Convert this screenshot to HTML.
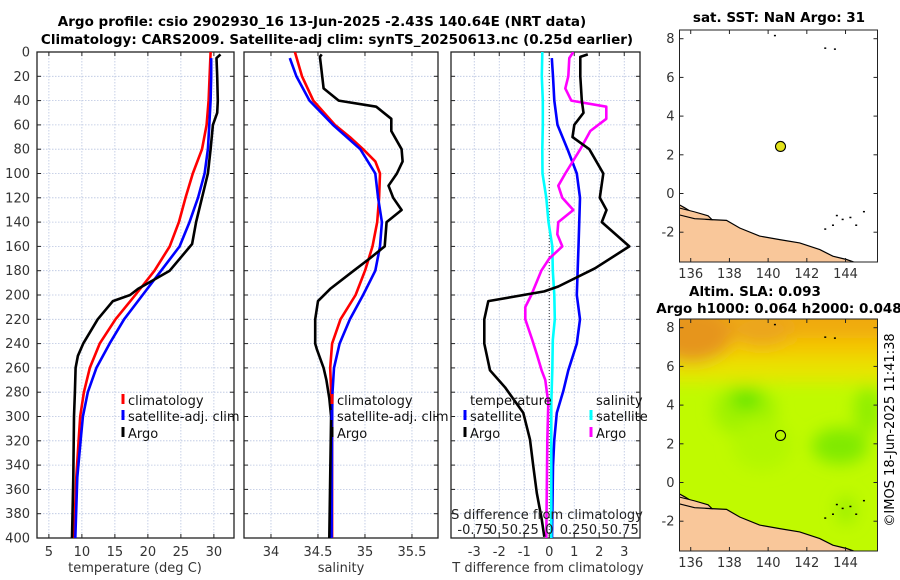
<!DOCTYPE html>
<html><head><meta charset="utf-8">
<style>
html,body{margin:0;padding:0;background:#fff;}
svg{display:block;font-family:"DejaVu Sans","Liberation Sans",sans-serif;}
</style></head>
<body>
<svg id="fig" width="900" height="580" viewBox="0 0 900 580" xmlns="http://www.w3.org/2000/svg">
<defs>
<filter id="blur8" x="-50%" y="-50%" width="200%" height="200%"><feGaussianBlur stdDeviation="8"/></filter>
<clipPath id="clipMap1"><rect x="680" y="30" width="198" height="232"/></clipPath>
<clipPath id="clipMap2"><rect x="679" y="319" width="198" height="232"/></clipPath>
<clipPath id="clipP1"><rect x="37" y="52" width="197" height="486"/></clipPath>
<clipPath id="clipP2"><rect x="244" y="52" width="194" height="486"/></clipPath>
<clipPath id="clipP3"><rect x="451" y="52" width="189" height="486"/></clipPath>
</defs>
<text x="322" y="26" text-anchor="middle" font-size="13.5" font-weight="bold">Argo profile: csio 2902930_16 13-Jun-2025 -2.43S 140.64E (NRT data)</text>
<text x="337" y="44" text-anchor="middle" font-size="13.5" font-weight="bold">Climatology: CARS2009. Satellite-adj clim: synTS_20250613.nc (0.25d earlier)</text>
<text x="779" y="22" text-anchor="middle" font-size="13.5" font-weight="bold">sat. SST: NaN Argo: 31</text>
<text x="755" y="296" text-anchor="middle" font-size="13.5" font-weight="bold">Altim. SLA: 0.093</text>
<text x="779" y="313" text-anchor="middle" font-size="13.5" font-weight="bold">Argo h1000: 0.064 h2000: 0.048</text>
<text transform="translate(894,430) rotate(-90)" text-anchor="middle" font-size="13">©IMOS 18-Jun-2025 11:41:38</text>
<g id="layer"></g>
</svg>
<script>
// ---- data ----
var depthTicks = [0,20,40,60,80,100,120,140,160,180,200,220,240,260,280,300,320,340,360,380,400];
var tempTicks = [5,10,15,20,25,30];
var salTicks = [34,34.5,35,35.5];
var salTickLabels = ["34","34.5","35","35.5"];
var tdiffTicks = [-3,-2,-1,0,1,2,3];
var sdiffTicks = [-0.75,-0.5,-0.25,0,0.25,0.5,0.75];
var sdiffTickLabels = ["-0.75","0.5","0.25","0","0.25","0.5","0.75"];

var tempClimDepth = [0,20,40,60,80,100,120,140,160,180,200,220,240,260,280,300,320,350,400];
var tempClim = [29.5,29.35,29.2,28.9,28.2,26.8,25.7,24.7,23.3,21.0,18.1,15.1,12.7,11.2,10.3,9.75,9.5,9.15,8.8];
var tempSatDepth = [5,20,40,60,80,100,120,140,160,180,200,220,240,260,280,300,320,350,400];
var tempSat = [29.6,29.6,29.5,29.3,29.1,28.6,27.6,26.3,24.8,22.0,19.2,16.4,14.2,12.2,10.9,10.15,9.8,9.3,9.0];
var tempArgoDepth = [2,5,20,40,50,60,80,100,120,140,158,180,195,200,205,220,240,250,260,280,300,350,400];
var tempArgo = [31.0,30.4,30.5,30.6,30.5,29.85,29.5,29.1,28.2,27.3,26.7,23.3,18.5,17.3,14.7,12.4,10.2,9.4,9.05,8.95,8.8,8.7,8.5];

var salClimDepth = [0,20,40,60,70,80,90,100,120,140,160,180,200,220,240,260,300,400];
var salClim = [34.255,34.33,34.45,34.68,34.84,34.98,35.11,35.16,35.15,35.13,35.08,35.0,34.9,34.74,34.65,34.63,34.65,34.65];
var salSatDepth = [5,20,40,60,80,100,120,140,160,180,200,220,240,260,280,300,400];
var salSat = [34.2,34.27,34.41,34.66,34.95,35.11,35.14,35.18,35.16,35.11,34.98,34.84,34.73,34.67,34.655,34.65,34.645];
var salArgoDepth = [2,4,10,30,40,45,55,65,80,90,100,110,120,130,140,160,170,180,195,205,220,240,245,260,270,285,300,400];
var salArgo = [34.54,34.52,34.53,34.56,34.72,35.12,35.28,35.28,35.39,35.40,35.34,35.25,35.30,35.39,35.23,35.21,35.05,34.88,34.63,34.50,34.47,34.47,34.49,34.56,34.59,34.62,34.64,34.62];

var tdiffSatDepth = [5,20,40,60,80,100,120,160,200,220,240,262,279,297,319,341,400];
var tdiffSat = [0.1,0.15,0.2,0.33,0.73,1.1,1.23,1.17,1.1,1.23,1.1,0.76,0.56,0.3,0.2,0.15,0.11];
var tdiffArgoDepth = [2,4,20,40,50,60,70,80,100,120,130,140,160,178,193,197,205,220,240,262,276,297,319,341,363,385,399];
var tdiffArgo = [1.54,1.24,1.24,1.3,1.37,1.0,0.93,1.6,2.16,2.02,2.29,2.1,3.2,1.83,0.36,-0.2,-2.44,-2.6,-2.6,-2.37,-1.77,-1.04,-0.77,-0.64,-0.5,-0.3,-0.2];
var sdiffSatDepth = [0,20,40,60,80,100,120,140,160,180,200,220,237,262,289,400];
var sdiffSat = [-0.07,-0.075,-0.065,-0.065,-0.07,-0.068,-0.03,-0.007,0.03,0.035,0.05,0.055,0.035,0.03,0.02,0.02];
var sdiffArgoDepth = [0,5,20,30,40,45,55,65,80,100,110,120,130,140,150,160,170,180,200,210,220,237,250,262,270,289,320,400];
var sdiffArgo = [0.24,0.2,0.19,0.16,0.22,0.57,0.57,0.41,0.31,0.16,0.09,0.13,0.24,0.09,0.08,0.13,0.0,-0.08,-0.18,-0.24,-0.24,-0.17,-0.12,-0.076,-0.04,-0.01,-0.02,-0.03];

var lonTicks = [136,138,140,142,144];
var latTicks = [-2,0,2,4,6,8];
var argoLon = 140.64;
var argoLat = 2.43;
var coastLon = [135.38,135.69,136.12,136.55,136.8,137.85,138.53,139.56,140.6,141.63,142.67,143.35,144.05,144.4];
var coastLat = [-0.57,-0.74,-1.0,-1.22,-1.34,-1.39,-1.78,-2.2,-2.38,-2.55,-2.9,-3.24,-3.41,-3.53];
var islandLon = [135.4,136.2,136.9,137.1,136.2,135.4];
var islandLat = [-0.75,-0.95,-1.15,-1.35,-1.3,-1.1];
var speckLon = [140.3,142.9,143.4,143.5,143.8,144.2,144.5,144.9,142.9,143.3];
var speckLat = [8.2,7.55,7.5,-1.1,-1.3,-1.2,-1.6,-0.9,-1.8,-1.6];

// ---- scales ----
var NS = "http://www.w3.org/2000/svg";
var layer = document.getElementById('layer');
function el(tag, attrs, parent) {
  var e = document.createElementNS(NS, tag);
  for (var k in attrs) e.setAttribute(k, attrs[k]);
  (parent || layer).appendChild(e);
  return e;
}
var Y0 = 52, Y1 = 538;
function yDepth(d) { return Y0 + d / 400 * (Y1 - Y0); }
var panels = [
  {x0:37, x1:234, v0:3.2, v1:33.05},
  {x0:244, x1:438, v0:33.713, v1:35.777},
  {x0:451, x1:640, v0:-3.93, v1:3.63}
];
function xP(p, v) { var P = panels[p]; return P.x0 + (v - P.v0) / (P.v1 - P.v0) * (P.x1 - P.x0); }
function xS(v) { return xP(2, v * 4); }

function drawPanelFrame(p) {
  var P = panels[p];
  var g = el('g', {});
  
  
  depthTicks.forEach(function (d) {
    var y = yDepth(d);
    var gl = el('line', {x1:P.x0, x2:P.x1, y1:y, y2:y, stroke:'#b8c4e0', 'stroke-width':0.8, 'stroke-dasharray':'1.5,1.5'}, g);
    
    
    el('line', {x1:P.x0, x2:P.x0 + 4, y1:y, y2:y, stroke:'#222', 'stroke-width':1}, g);
    el('line', {x1:P.x1 - 4, x2:P.x1, y1:y, y2:y, stroke:'#222', 'stroke-width':1}, g);
  });
  var ticks = p === 0 ? tempTicks : p === 1 ? salTicks : tdiffTicks;
  ticks.forEach(function (v, i) {
    var x = xP(p, v);
    var gl = el('line', {x1:x, x2:x, y1:Y0, y2:Y1, stroke:'#b8c4e0', 'stroke-width':0.8, 'stroke-dasharray':'1.5,1.5'}, g);
    
    
    el('line', {x1:x, x2:x, y1:Y1, y2:Y1 - 4, stroke:'#222'}, g);
    el('line', {x1:x, x2:x, y1:Y0, y2:Y0 + 4, stroke:'#222'}, g);
    var t = el('text', {x:x, y:556, 'text-anchor':'middle', 'font-size':13, fill:'#333'}, g);
    t.textContent = p === 1 ? salTickLabels[i] : String(v);
    
    
  });
  var fr = el('rect', {x:P.x0, y:Y0, width:P.x1 - P.x0, height:Y1 - Y0, fill:'none', stroke:'#222', 'stroke-width':1.3}, g);
  
  
}
for (var p = 0; p < 3; p++) drawPanelFrame(p);

depthTicks.forEach(function (d) {
  var t = el('text', {x:30, y:yDepth(d) + 4.5, 'text-anchor':'end', 'font-size':13, fill:'#333'});
  t.textContent = String(d);
  
  
});
var zl = el('line', {x1:xP(2,0), x2:xP(2,0), y1:Y0, y2:Y1, stroke:'#333', 'stroke-width':1, 'stroke-dasharray':'1,2'});



function line(p, depths, vals, color, name, sFlag) {
  var pts = depths.map(function (d, i) {
    var x = sFlag ? xS(vals[i]) : xP(p, vals[i]);
    return x.toFixed(1) + ',' + yDepth(d).toFixed(1);
  }).join(' ');
  var pl = el('polyline', {points:pts, fill:'none', stroke:color, 'stroke-width':2.6, 'stroke-linejoin':'round', 'clip-path':'url(#clipP' + (p + 1) + ')'});
  
  
}
line(0, tempClimDepth, tempClim, '#ff0000', 'temp-climatology-line');
line(0, tempSatDepth, tempSat, '#0000ff', 'temp-satellite-line');
line(0, tempArgoDepth, tempArgo, '#000000', 'temp-argo-line');
line(1, salClimDepth, salClim, '#ff0000', 'salinity-climatology-line');
line(1, salSatDepth, salSat, '#0000ff', 'salinity-satellite-line');
line(1, salArgoDepth, salArgo, '#000000', 'salinity-argo-line');
line(2, tdiffSatDepth, tdiffSat, '#0000ff', 'tdiff-satellite-line');
line(2, sdiffSatDepth, sdiffSat, '#00ffff', 'sdiff-satellite-line', true);
line(2, sdiffArgoDepth, sdiffArgo, '#ff00ff', 'sdiff-argo-line', true);
line(2, tdiffArgoDepth, tdiffArgo, '#000000', 'tdiff-argo-line');

[['temperature (deg C)', 135, 'temperature-axis-title'], ['salinity', 341, 'salinity-axis-title'], ['T difference from climatology', 548, 'tdiff-axis-title']].forEach(function (a) {
  var t = el('text', {x:a[1], y:572, 'text-anchor':'middle', 'font-size':13, fill:'#333'});
  t.textContent = a[0];
  
  
});
var st = el('text', {x:547, y:519, 'text-anchor':'middle', 'font-size':13, fill:'#222'});
st.textContent = 'S difference from climatology';


sdiffTicks.forEach(function (v, i) {
  var t = el('text', {x:xS(v), y:534, 'text-anchor':'middle', 'font-size':13, fill:'#222'});
  t.textContent = sdiffTickLabels[i];
  
  
});

function legendEntry(mx, y, color, label, name) {
  var g = el('g', {});
  
  
  el('rect', {x:mx - 1.5, y:y - 11, width:3, height:10, fill:color}, g);
  var t = el('text', {x:mx + 5, y:y, 'font-size':13, fill:'#111'}, g);
  t.textContent = label;
}
legendEntry(123, 405, '#ff0000', 'climatology', 'legend-temp-climatology');
legendEntry(123, 421, '#0000ff', 'satellite-adj. clim', 'legend-temp-satellite');
legendEntry(123, 438, '#000000', 'Argo', 'legend-temp-argo');
legendEntry(332, 405, '#ff0000', 'climatology', 'legend-sal-climatology');
legendEntry(332, 421, '#0000ff', 'satellite-adj. clim', 'legend-sal-satellite');
legendEntry(332, 438, '#000000', 'Argo', 'legend-sal-argo');
var lt = el('text', {x:470, y:405, 'font-size':13, fill:'#111'});
lt.textContent = 'temperature';


var ls = el('text', {x:596, y:405, 'font-size':13, fill:'#111'});
ls.textContent = 'salinity';


legendEntry(465, 421, '#0000ff', 'satellite', 'legend-tdiff-satellite');
legendEntry(465, 438, '#000000', 'Argo', 'legend-tdiff-argo');
legendEntry(591, 421, '#00ffff', 'satellite', 'legend-sdiff-satellite');
legendEntry(591, 438, '#ff00ff', 'Argo', 'legend-sdiff-argo');

// ---- maps ----
var MX0 = 679.5, MLON0 = 135.42, PXD = 19.35, MLAT0 = 8.45;
function mx(lon) { return MX0 + (lon - MLON0) * PXD; }
function my(top, lat) { return top + (MLAT0 - lat) * PXD; }

function drawMap(top, idx, name) {
  var g = el('g', {});
  
  
  var clip = 'url(#clipMap' + idx + ')';
  var inner = el('g', {'clip-path':clip}, g);
  if (idx === 2) {
    var f = el('g', {}, inner);
    
    
    el('rect', {x:679, y:319, width:198, height:232, fill:'#c0fa00'}, f);
    var b = el('g', {filter:'url(#blur8)'}, f);
    el('rect', {x:660, y:300, width:240, height:40, fill:'#f0aa10'}, b);
    el('rect', {x:660, y:338, width:240, height:22, fill:'#f4c800'}, b);
    el('rect', {x:660, y:358, width:240, height:24, fill:'#e8e400'}, b);
    el('ellipse', {cx:692, cy:335, rx:40, ry:28, fill:'#e6951a'}, b);
    el('ellipse', {cx:762, cy:330, rx:30, ry:16, fill:'#eba51a'}, b);
    el('ellipse', {cx:745, cy:410, rx:32, ry:26, fill:'#a0f200'}, b);
    el('ellipse', {cx:746, cy:400, rx:15, ry:9, fill:'#60e400'}, b);
    el('ellipse', {cx:762, cy:445, rx:30, ry:25, fill:'#b2f700'}, b);
    el('ellipse', {cx:840, cy:446, rx:28, ry:18, fill:'#80ea00'}, b);
    el('ellipse', {cx:868, cy:410, rx:14, ry:24, fill:'#90ee00'}, b);
    el('ellipse', {cx:846, cy:510, rx:10, ry:14, fill:'#9cef00'}, b);
  }
  var landPts = coastLon.map(function (lo, i) { return mx(lo).toFixed(1) + ',' + my(top, coastLat[i]).toFixed(1); });
  landPts.push(mx(146).toFixed(1) + ',' + (top + 240));
  landPts.push(mx(135).toFixed(1) + ',' + (top + 240));
  landPts.push(mx(135).toFixed(1) + ',' + my(top, coastLat[0]).toFixed(1));
  var land = el('polygon', {points:landPts.join(' '), fill:'#f9c79a', stroke:'#000', 'stroke-width':1.2}, inner);
  
  
  var isl = el('polygon', {points:islandLon.map(function (lo, i) { return mx(lo).toFixed(1) + ',' + my(top, islandLat[i]).toFixed(1); }).join(' '), fill:'#f9c79a', stroke:'#000', 'stroke-width':1.1}, inner);
  
  
  speckLon.forEach(function (lo, i) {
    var s = el('rect', {x:mx(lo), y:my(top, speckLat[i]), width:2, height:1.5, fill:'#000'}, inner);
    
    
  });
  var pt = el('circle', {cx:mx(argoLon), cy:my(top, argoLat), r:5, fill:idx === 1 ? '#e3e31a' : 'none', stroke:'#000', 'stroke-width':1.1}, g);
  
  
  var W = 198, H = 232, x0 = 679.5;
  el('rect', {x:x0, y:top, width:W, height:H, fill:'none', stroke:'#222', 'stroke-width':1}, g);
  lonTicks.forEach(function (lo) {
    var x = mx(lo);
    el('line', {x1:x, x2:x, y1:top + H, y2:top + H - 4, stroke:'#222'}, g);
    el('line', {x1:x, x2:x, y1:top, y2:top + 4, stroke:'#222'}, g);
    var t = el('text', {x:x, y:top + H + 16, 'text-anchor':'middle', 'font-size':13, fill:'#333'}, g);
    t.textContent = String(lo);
    
    
  });
  latTicks.forEach(function (la) {
    var y = my(top, la);
    el('line', {x1:x0, x2:x0 + 4, y1:y, y2:y, stroke:'#222'}, g);
    el('line', {x1:x0 + W - 4, x2:x0 + W, y1:y, y2:y, stroke:'#222'}, g);
    var t = el('text', {x:x0 - 5, y:y + 4.5, 'text-anchor':'end', 'font-size':13, fill:'#333'}, g);
    t.textContent = String(la);
    
    
  });
}
drawMap(30, 1, 'sst-map');
drawMap(319, 2, 'sla-map');
</script>
</body></html>
